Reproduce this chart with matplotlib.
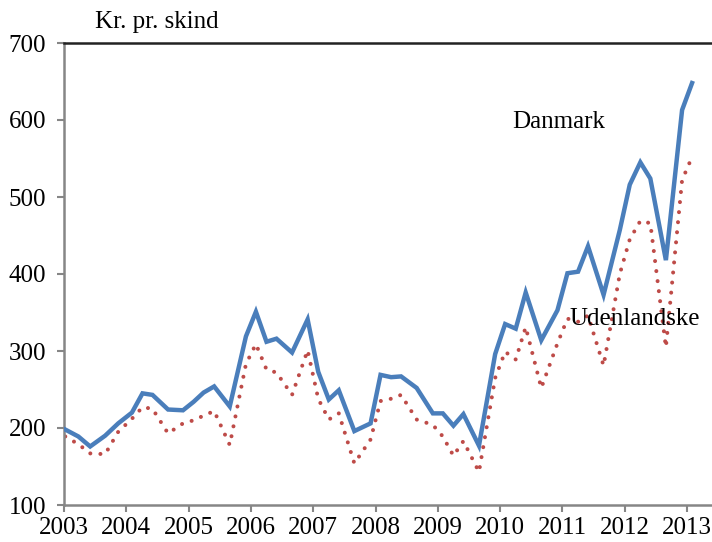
import numpy as np
import matplotlib.pyplot as plt

# auktionstidspunkter (decimalaar)
tid = [2003.02, 2003.23, 2003.42, 2003.66, 2003.87,
       2004.09, 2004.26, 2004.42, 2004.67, 2004.91,
       2005.08, 2005.24, 2005.41, 2005.66, 2005.92,
       2006.08, 2006.25, 2006.41, 2006.66, 2006.91,
       2007.08, 2007.25, 2007.41, 2007.66, 2007.92,
       2008.08, 2008.25, 2008.41, 2008.66, 2008.92,
       2009.08, 2009.25, 2009.41, 2009.66, 2009.92,
       2010.08, 2010.25, 2010.41, 2010.66, 2010.92,
       2011.08, 2011.25, 2011.41, 2011.66, 2011.92,
       2012.08, 2012.25, 2012.41, 2012.66, 2012.92,
       2013.08]

danmark = [198, 189, 176, 190, 206,
           220, 245, 243, 224, 223,
           234, 246, 254, 228, 319,
           351, 312, 316, 298, 341,
           273, 237, 249, 196, 206,
           269, 266, 267, 252, 219,
           219, 203, 218, 177, 296,
           335, 329, 376, 314, 353,
           401, 403, 436, 373, 457,
           516, 545, 524, 418, 613,
           648]

udenlandske = [189, 179, 167, 166, 195,
               212, 227, 225, 193, 206,
               210, 216, 222, 178, 283,
               309, 276, 272, 243, 301,
               238, 211, 219, 154, 185,
               235, 238, 243, 211, 204,
               189, 164, 183, 143, 265,
               299, 289, 331, 252, 310,
               342, 338, 346, 281, 400,
               445, 469, 466, 305, 522,
               552]

aar = list(range(2003, 2014))
yticks = [100, 200, 300, 400, 500, 600, 700]

plt.rcParams['font.family'] = ['Liberation Serif', 'DejaVu Serif']

fig = plt.figure(figsize=(7.12, 5.42), dpi=100)
ax = fig.add_axes([64 / 712, 37 / 542, 1 - 64 / 712, 462 / 542])

ax.plot(tid, danmark, color='#4A7EBB', linewidth=3.2, solid_joinstyle='miter', zorder=3)
ax.plot(tid, udenlandske, color='#BE4B48', linewidth=2.9,
        linestyle=(0, (0.01, 2.5)), dash_capstyle='round', zorder=2)

ax.set_xlim(2003, 2013.4)
ax.set_ylim(100, 700)
ax.set_xticks(aar)
ax.set_yticks(yticks)
ax.tick_params(axis='both', labelsize=18, color='#868686', width=1.5, length=5)
ax.tick_params(axis='y', pad=8)
ax.tick_params(axis='x', pad=4)

ax.spines['right'].set_visible(False)
ax.spines['left'].set_color('#868686')
ax.spines['left'].set_linewidth(1.8)
ax.spines['bottom'].set_color('#868686')
ax.spines['bottom'].set_linewidth(1.8)
ax.spines['top'].set_color('#222222')
ax.spines['top'].set_linewidth(1.8)

fig.text(95 / 712, 1 - 22 / 542, 'Kr. pr. skind', fontsize=18, va='center', ha='left')
ax.text(2010.2, 597, 'Danmark', fontsize=18, va='center', ha='left')
ax.text(2011.12, 342, 'Udenlandske', fontsize=18, va='center', ha='left')

fig.savefig('out.png', dpi=100)
